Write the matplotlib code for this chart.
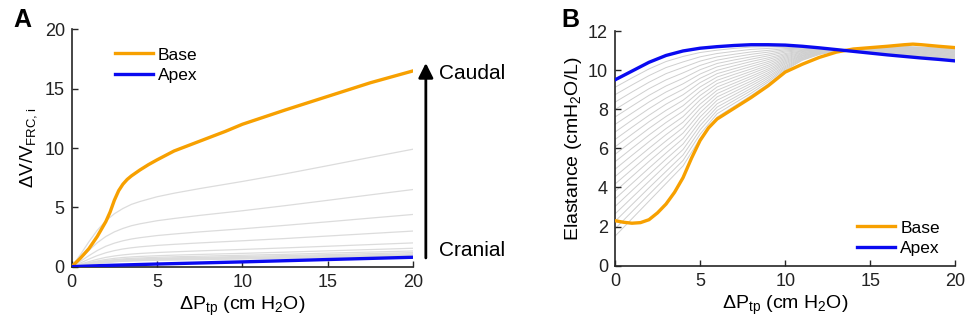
import numpy as np
import matplotlib
matplotlib.use("Agg")
import matplotlib.pyplot as plt

plt.rcParams['font.family'] = ['Liberation Sans', 'DejaVu Sans']
plt.rcParams['mathtext.fontset'] = 'custom'
plt.rcParams['mathtext.rm'] = 'Liberation Sans'

# ---------------- Panel A data: volume change vs pressure ----------------
xa = [0, 0.5, 1, 1.5, 2, 2.25, 2.5, 2.75, 3, 3.25, 3.5, 4, 4.5, 5, 6, 7, 8, 9, 10, 12.5, 15,
      17.5, 20]
base_a = [0, 0.7, 1.5, 2.55, 3.8, 4.6, 5.6, 6.4, 6.95, 7.35, 7.65, 8.15, 8.6, 9.0, 9.75, 10.3,
          10.85, 11.4, 12.0, 13.2, 14.35, 15.5, 16.5]
apex_xa = [0, 2, 5, 10, 15, 20]
apex_a = [0, 0.1, 0.22, 0.4, 0.6, 0.79]

# intermediate regions (gray), read at these pressures
xa_gray = [0, 0.5, 1, 1.5, 2, 2.5, 3, 3.5, 4, 5, 6, 7.5, 10, 12.5, 15, 17.5, 20]
gray_a = [
    [0, 0.99, 2.08, 3.07, 3.86, 4.46, 4.9, 5.25, 5.49, 5.89, 6.19, 6.58, 7.18, 7.82, 8.51, 9.21, 9.9],
    [0, 0.65, 1.37, 2.02, 2.54, 2.93, 3.22, 3.45, 3.61, 3.87, 4.06, 4.32, 4.71, 5.14, 5.59, 6.05, 6.5],
    [0, 0.44, 0.92, 1.36, 1.72, 1.98, 2.18, 2.33, 2.44, 2.62, 2.75, 2.93, 3.19, 3.48, 3.78, 4.09, 4.4],
    [0, 0.3, 0.63, 0.93, 1.17, 1.35, 1.49, 1.59, 1.67, 1.79, 1.88, 2.0, 2.18, 2.37, 2.58, 2.79, 3.0],
    [0, 0.2, 0.42, 0.62, 0.78, 0.9, 0.99, 1.06, 1.11, 1.19, 1.25, 1.33, 1.45, 1.58, 1.72, 1.86, 2.0],
    [0, 0.16, 0.33, 0.48, 0.6, 0.7, 0.77, 0.82, 0.86, 0.92, 0.97, 1.03, 1.12, 1.22, 1.33, 1.44, 1.55],
    [0, 0.13, 0.28, 0.41, 0.51, 0.59, 0.65, 0.7, 0.73, 0.79, 0.83, 0.88, 0.96, 1.04, 1.14, 1.23, 1.32],
    [0, 0.12, 0.25, 0.37, 0.46, 0.53, 0.58, 0.63, 0.65, 0.7, 0.74, 0.78, 0.86, 0.93, 1.01, 1.1, 1.18],
    [0, 0.11, 0.23, 0.33, 0.42, 0.49, 0.53, 0.57, 0.6, 0.64, 0.68, 0.72, 0.78, 0.85, 0.93, 1.0, 1.08],
    [0, 0.1, 0.21, 0.31, 0.39, 0.45, 0.5, 0.53, 0.56, 0.6, 0.63, 0.67, 0.73, 0.79, 0.86, 0.93, 1.0],
    [0, 0.09, 0.2, 0.29, 0.37, 0.42, 0.47, 0.5, 0.52, 0.56, 0.59, 0.63, 0.68, 0.74, 0.81, 0.87, 0.94],
    [0, 0.09, 0.19, 0.28, 0.35, 0.41, 0.45, 0.48, 0.5, 0.54, 0.56, 0.6, 0.65, 0.71, 0.77, 0.84, 0.9],
]

# ---------------- Panel B data: elastance vs pressure ----------------
xb = [0, 0.5, 1, 1.5, 2, 2.5, 3, 3.5, 4, 4.5, 5, 5.5, 6, 7, 8, 9, 10, 11, 12, 13, 14, 15, 16,
      17, 17.5, 18, 19, 20]
base_b = [2.3, 2.22, 2.17, 2.2, 2.35, 2.7, 3.15, 3.75, 4.5, 5.5, 6.4, 7.05, 7.5, 8.05, 8.6,
          9.2, 9.9, 10.3, 10.65, 10.92, 11.08, 11.15, 11.22, 11.3, 11.33, 11.3, 11.22, 11.15]
xb_apex = [0, 1, 2, 3, 4, 5, 6, 7, 8, 9, 10, 11, 12, 13, 14, 15, 16, 17, 18, 19, 20]
apex_b = [9.5, 9.95, 10.4, 10.75, 10.98, 11.12, 11.2, 11.26, 11.3, 11.3, 11.28, 11.22, 11.14,
          11.05, 10.96, 10.87, 10.78, 10.7, 10.62, 10.55, 10.47]

xb_gray = [0, 1, 2, 3, 4, 5, 6, 7, 8, 9, 10, 11, 12, 13, 16, 20]
gray_b = [
    [1.5, 2.4, 3.3, 4.2, 5.1, 6.5, 7.6, 8.15, 8.7, 9.3, 10.0, 10.5, 10.8, 11.0, 11.25, 11.1],
    [1.88, 2.76, 3.64, 4.51, 5.38, 6.72, 7.77, 8.3, 8.82, 9.4, 10.06, 10.53, 10.82, 11.0, 11.23, 11.07],
    [2.26, 3.12, 3.98, 4.82, 5.66, 6.94, 7.94, 8.45, 8.95, 9.49, 10.12, 10.57, 10.83, 11.0, 11.21, 11.04],
    [2.64, 3.48, 4.31, 5.14, 5.94, 7.16, 8.11, 8.59, 9.07, 9.59, 10.18, 10.6, 10.85, 11.01, 11.18, 11.01],
    [3.02, 3.84, 4.65, 5.45, 6.22, 7.38, 8.28, 8.74, 9.2, 9.68, 10.24, 10.64, 10.86, 11.01, 11.16, 10.98],
    [3.41, 4.2, 4.99, 5.76, 6.5, 7.6, 8.46, 8.89, 9.32, 9.78, 10.31, 10.67, 10.88, 11.01, 11.14, 10.95],
    [3.79, 4.56, 5.33, 6.07, 6.78, 7.82, 8.63, 9.04, 9.44, 9.87, 10.37, 10.71, 10.9, 11.01, 11.12, 10.92],
    [4.17, 4.92, 5.67, 6.38, 7.06, 8.04, 8.8, 9.19, 9.57, 9.97, 10.43, 10.74, 10.91, 11.01, 11.1, 10.89],
    [4.55, 5.28, 6.0, 6.7, 7.34, 8.26, 8.97, 9.33, 9.69, 10.06, 10.49, 10.77, 10.93, 11.02, 11.07, 10.86],
    [4.93, 5.64, 6.34, 7.01, 7.62, 8.48, 9.14, 9.48, 9.82, 10.16, 10.55, 10.81, 10.95, 11.02, 11.05, 10.83],
    [5.31, 6.0, 6.68, 7.32, 7.9, 8.7, 9.31, 9.63, 9.94, 10.25, 10.61, 10.84, 10.96, 11.02, 11.03, 10.8],
    [5.69, 6.36, 7.02, 7.63, 8.18, 8.92, 9.48, 9.78, 10.06, 10.35, 10.67, 10.88, 10.98, 11.02, 11.01, 10.77],
    [6.07, 6.72, 7.36, 7.94, 8.46, 9.14, 9.65, 9.93, 10.19, 10.44, 10.73, 10.91, 10.99, 11.02, 10.99, 10.74],
    [6.45, 7.08, 7.69, 8.26, 8.74, 9.36, 9.82, 10.07, 10.31, 10.54, 10.79, 10.95, 11.01, 11.03, 10.96, 10.71],
    [6.83, 7.44, 8.03, 8.57, 9.02, 9.58, 9.99, 10.22, 10.44, 10.63, 10.85, 10.98, 11.03, 11.03, 10.94, 10.68],
    [7.22, 7.8, 8.37, 8.88, 9.3, 9.8, 10.17, 10.37, 10.56, 10.73, 10.92, 11.01, 11.04, 11.03, 10.92, 10.65],
    [7.6, 8.16, 8.71, 9.19, 9.58, 10.02, 10.34, 10.52, 10.68, 10.82, 10.98, 11.05, 11.06, 11.03, 10.9, 10.62],
    [7.98, 8.52, 9.05, 9.5, 9.86, 10.24, 10.51, 10.67, 10.81, 10.92, 11.04, 11.08, 11.08, 11.03, 10.87, 10.59],
    [8.36, 8.88, 9.38, 9.82, 10.14, 10.46, 10.68, 10.81, 10.93, 11.01, 11.1, 11.12, 11.09, 11.04, 10.85, 10.56],
    [8.74, 9.24, 9.72, 10.13, 10.42, 10.68, 10.85, 10.96, 11.06, 11.11, 11.16, 11.15, 11.11, 11.04, 10.83, 10.53],
    [9.12, 9.6, 10.06, 10.44, 10.7, 10.9, 11.02, 11.11, 11.18, 11.2, 11.22, 11.19, 11.12, 11.04, 10.81, 10.5],
]

orange = '#f7a000'
blue = '#0a0af0'
axis_col = '#262626'

fig = plt.figure(figsize=(9.73, 3.3), dpi=100)
axA = fig.add_axes([0.0737, 0.192, 0.3508, 0.719])
axB = fig.add_axes([0.632, 0.195, 0.350, 0.711])

def style(ax):
    for s in ['top', 'right']:
        ax.spines[s].set_visible(False)
    for s in ['left', 'bottom']:
        ax.spines[s].set_color(axis_col)
        ax.spines[s].set_linewidth(1.2)
    ax.tick_params(direction='in', length=4, width=1.0, colors=axis_col,
                   labelsize=13, labelcolor='#222222', pad=5)

# Panel A
for row in gray_a:
    axA.plot(xa_gray, row, color='#dcdcdc', lw=0.9, zorder=1)
axA.plot(xa, base_a, color=orange, lw=2.4, label='Base', zorder=3)
axA.plot(apex_xa, apex_a, color=blue, lw=2.4, label='Apex', zorder=4)
axA.set_xlim(0, 20)
axA.set_ylim(0, 20)
axA.set_xticks([0, 5, 10, 15, 20])
axA.set_yticks([0, 5, 10, 15, 20])
style(axA)
axA.set_xlabel('ΔP$_{\\mathregular{tp}}$ (cm H$_{\\mathregular{2}}$O)', fontsize=14, labelpad=3)
axA.set_ylabel('ΔV/V$_{\\mathregular{FRC,i}}$', fontsize=13.5, labelpad=3)
axA.legend(loc='upper left', bbox_to_anchor=(0.08, 0.99), frameon=False, fontsize=12.5,
           handlelength=2.2, handletextpad=0.3, labelspacing=0.3)
axA.annotate('', xy=(20.75, 17.4), xytext=(20.75, 0.5), annotation_clip=False,
             arrowprops=dict(arrowstyle='-|>', lw=2.0, color='k', mutation_scale=22))
axA.text(21.5, 16.3, 'Caudal', fontsize=15, va='center', ha='left', clip_on=False)
axA.text(21.5, 1.4, 'Cranial', fontsize=15, va='center', ha='left', clip_on=False)
fig.text(0.014, 0.975, 'A', fontsize=18, fontweight='bold', va='top', ha='left')

# Panel B
for row in gray_b:
    axB.plot(xb_gray, row, color='#cfcfcf', lw=0.7, zorder=1)
axB.plot(xb, base_b, color=orange, lw=2.4, label='Base', zorder=3)
axB.plot(xb_apex, apex_b, color=blue, lw=2.4, label='Apex', zorder=4)
axB.set_xlim(0, 20)
axB.set_ylim(0, 12)
axB.set_xticks([0, 5, 10, 15, 20])
axB.set_yticks([0, 2, 4, 6, 8, 10, 12])
style(axB)
axB.set_xlabel('ΔP$_{\\mathregular{tp}}$ (cm H$_{\\mathregular{2}}$O)', fontsize=14, labelpad=3)
axB.set_ylabel('Elastance (cmH$_{\\mathregular{2}}$O/L)', fontsize=14, labelpad=3)
axB.legend(loc='lower right', bbox_to_anchor=(1.0, -0.025), frameon=False, fontsize=12.5,
           handlelength=2.2, handletextpad=0.3, labelspacing=0.3)
fig.text(0.577, 0.975, 'B', fontsize=18, fontweight='bold', va='top', ha='left')

fig.savefig('out.png', dpi=100)
